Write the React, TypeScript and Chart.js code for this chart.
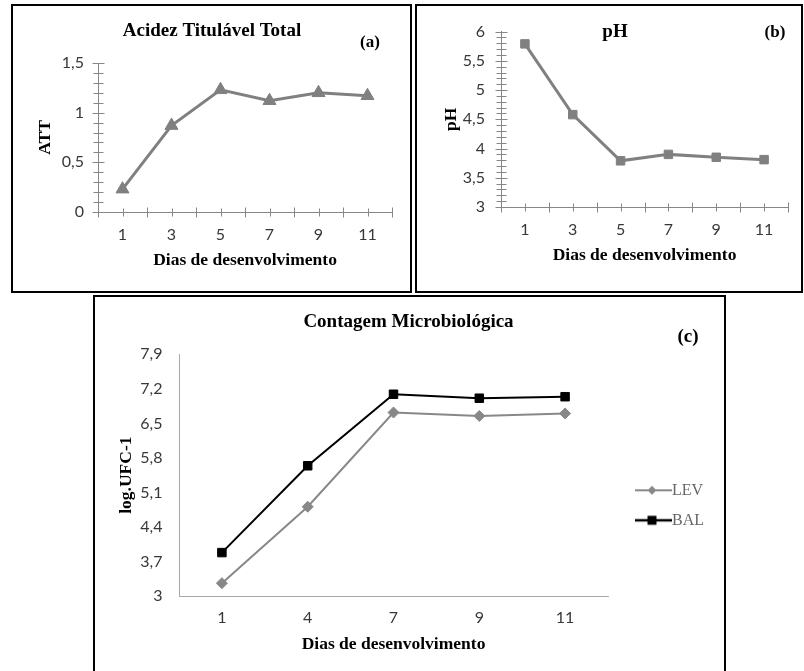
import React, { useEffect, useRef } from 'react';
import { Chart, registerables } from 'chart.js';

Chart.register(...registerables);

// ---------- data ----------
const daysAB = [1, 3, 5, 7, 9, 11];
const attValues = [0.23, 0.87, 1.23, 1.12, 1.2, 1.17];
const phValues = [5.79, 4.58, 3.79, 3.9, 3.85, 3.81];
const daysC = ['1', '4', '7', '9', '11'];
const levValues = [3.26, 4.81, 6.72, 6.65, 6.7];
const balValues = [3.88, 5.64, 7.09, 7.01, 7.04];
const attRange = [0, 1.5, 0.5]; // min, max, step
const phRange = [3, 6, 0.5];
const ufcRange = [3, 7.9, 0.7];

const GREY = '#808080';
const AXIS = '#878787';
const TICK_COLOR = '#383838';
const TICK_FONT = { family: 'Lato', size: 16 };
const SERIF = '"Liberation Serif"';
const AXIS_TITLE_FONT = { family: SERIF, size: 17.5, weight: 'bold' as const };

const fmt = (v: number | string) => {
  const n = Math.round(Number(v) * 10) / 10;
  return String(n).replace('.', ',');
};

type TextItem = { text: string; x: number; y: number; font: string };

function textPlugin(items: TextItem[]) {
  return {
    id: 'panelTexts',
    afterDraw(chart: any) {
      const ctx = chart.ctx;
      ctx.save();
      ctx.fillStyle = '#000';
      ctx.textAlign = 'center';
      ctx.textBaseline = 'middle';
      items.forEach((it) => {
        ctx.font = it.font;
        ctx.fillText(it.text, it.x, it.y);
      });
      ctx.restore();
    },
  };
}

function crossTicksPlugin(minorStep: number, color: string) {
  return {
    id: 'crossTicks',
    beforeDatasetsDraw(chart: any) {
      const { ctx, chartArea, scales } = chart;
      const xs = scales.x;
      const ys = scales.y;
      ctx.save();
      ctx.strokeStyle = color;
      ctx.lineWidth = 1;
      ctx.beginPath();
      const axisY = Math.round(chartArea.bottom) + 0.5;
      xs.ticks.forEach((t: any) => {
        const px = Math.round(xs.getPixelForValue(t.value)) + 0.5;
        const len = t.value % 2 === 0 ? 5 : 4;
        ctx.moveTo(px, axisY - len);
        ctx.lineTo(px, axisY + len);
      });
      const n = Math.round((ys.max - ys.min) / minorStep);
      const axisX = Math.round(chartArea.left) + 0.5;
      for (let i = 0; i <= n; i++) {
        const py = Math.round(ys.getPixelForValue(ys.min + i * minorStep)) + 0.5;
        const len = i % 5 === 0 ? 6 : 5;
        ctx.moveTo(axisX - len, py);
        ctx.lineTo(axisX + len, py);
      }
      ctx.stroke();
      ctx.restore();
    },
  };
}

function legendSymbol(color: string, lw: number, shape: 'diamond' | 'square', half: number) {
  const c = document.createElement('canvas');
  c.width = 58;
  c.height = 14;
  const g = c.getContext('2d')!;
  const x0 = 21;
  const x1 = 58;
  const cy = 7;
  const cx = x0 + 17;
  g.strokeStyle = color;
  g.lineWidth = lw;
  g.beginPath();
  g.moveTo(x0, cy);
  g.lineTo(x1, cy);
  g.stroke();
  g.fillStyle = color;
  g.beginPath();
  if (shape === 'diamond') {
    g.moveTo(cx, cy - half);
    g.lineTo(cx + half, cy);
    g.lineTo(cx, cy + half);
    g.lineTo(cx - half, cy);
    g.closePath();
  } else {
    g.rect(cx - half, cy - half, 2 * half, 2 * half);
  }
  g.fill();
  return c;
}

function linearXAxis(labelPadding: number) {
  return {
    type: 'linear' as const,
    min: 0,
    max: 12,
    grid: { display: false, drawTicks: false },
    border: { color: AXIS, width: 1 },
    ticks: {
      stepSize: 1,
      maxTicksLimit: 20,
      autoSkip: false,
      maxRotation: 0,
      padding: labelPadding,
      color: TICK_COLOR,
      font: TICK_FONT,
      callback: (v: any) => (Number(v) % 2 === 1 ? String(v) : ''),
    },
    title: {
      display: true,
      text: 'Dias de desenvolvimento',
      color: '#000',
      font: AXIS_TITLE_FONT,
      padding: { top: 0, bottom: 1 },
    },
    afterFit: (s: any) => {
      s.height = 60;
    },
  };
}

function buildA(): any {
  return {
    type: 'line',
    data: {
      datasets: [
        {
          label: 'ATT',
          data: daysAB.map((d, i) => ({ x: d, y: attValues[i] })),
          borderColor: GREY,
          backgroundColor: GREY,
          borderWidth: 3,
          pointStyle: 'triangle',
          pointRadius: 7.5,
          pointBorderWidth: 1,
          pointBackgroundColor: GREY,
          pointBorderColor: GREY,
          tension: 0,
        },
      ],
    },
    options: {
      animation: false,
      responsive: false,
      events: [],
      layout: { padding: { left: 0, top: 57, right: 18, bottom: 19 } },
      plugins: { legend: { display: false }, tooltip: { enabled: false } },
      scales: {
        x: linearXAxis(13),
        y: {
          min: attRange[0],
          max: attRange[1],
          grid: { display: false, drawTicks: false },
          border: { color: AXIS, width: 1 },
          ticks: { stepSize: attRange[2], padding: 14, color: TICK_COLOR, font: TICK_FONT, callback: fmt },
          title: { display: true, text: 'ATT', color: '#000', font: AXIS_TITLE_FONT, padding: { top: 22, bottom: 0 } },
          afterFit: (s: any) => {
            s.width = 85;
          },
        },
      },
    },
    plugins: [
      crossTicksPlugin(0.1, AXIS),
      textPlugin([
        { text: 'Acidez Titulável Total', x: 199, y: 25, font: `bold 19px ${SERIF}` },
        { text: '(a)', x: 357, y: 37, font: `bold 17px ${SERIF}` },
      ]),
    ],
  };
}

function buildB(): any {
  return {
    type: 'line',
    data: {
      datasets: [
        {
          label: 'pH',
          data: daysAB.map((d, i) => ({ x: d, y: phValues[i] })),
          borderColor: GREY,
          backgroundColor: GREY,
          borderWidth: 3,
          pointStyle: 'rect',
          pointRadius: 6,
          pointBorderWidth: 1,
          pointBackgroundColor: GREY,
          pointBorderColor: GREY,
          tension: 0,
        },
      ],
    },
    options: {
      animation: false,
      responsive: false,
      events: [],
      layout: { padding: { left: 0, top: 13, right: 4, bottom: 24 } },
      plugins: { legend: { display: false }, tooltip: { enabled: false } },
      scales: {
        x: linearXAxis(13),
        y: {
          min: phRange[0],
          max: phRange[1],
          grid: { display: false, drawTicks: false },
          border: { color: AXIS, width: 1 },
          ticks: { stepSize: phRange[2], padding: 16, color: TICK_COLOR, font: TICK_FONT, callback: fmt },
          title: { display: true, text: 'pH', color: '#000', font: AXIS_TITLE_FONT, padding: { top: 24, bottom: 0 } },
          afterFit: (s: any) => {
            s.width = 84;
          },
        },
      },
    },
    plugins: [
      crossTicksPlugin(0.1, AXIS),
      textPlugin([
        { text: 'pH', x: 198, y: 26, font: `bold 19px ${SERIF}` },
        { text: '(b)', x: 358, y: 27, font: `bold 17px ${SERIF}` },
      ]),
    ],
  };
}

function buildC(): any {
  const levSym = legendSymbol('#888888', 2, 'diamond', 4.5);
  const balSym = legendSymbol('#000000', 2.5, 'square', 4.5);
  const AX_C = '#a8a8a8';
  return {
    type: 'line',
    data: {
      labels: daysC,
      datasets: [
        {
          label: 'LEV',
          data: levValues,
          borderColor: '#888888',
          backgroundColor: '#888888',
          borderWidth: 2,
          pointStyle: 'rectRot',
          pointRadius: 5.5,
          pointBorderWidth: 1,
          pointBackgroundColor: '#888888',
          pointBorderColor: '#888888',
          tension: 0,
        },
        {
          label: 'BAL',
          data: balValues,
          borderColor: '#000000',
          backgroundColor: '#000000',
          borderWidth: 2,
          pointStyle: 'rect',
          pointRadius: 6,
          pointBorderWidth: 1,
          pointBackgroundColor: '#000000',
          pointBorderColor: '#000000',
          tension: 0,
        },
      ],
    },
    options: {
      animation: false,
      responsive: false,
      events: [],
      layout: { padding: { left: 0, top: 57.3, right: 10, bottom: 17 } },
      plugins: {
        tooltip: { enabled: false },
        legend: {
          display: true,
          position: 'right',
          align: 'start',
          title: { display: true, text: ' ', font: { size: 10 }, padding: { top: 0, bottom: 102 } },
          labels: {
            usePointStyle: true,
            pointStyleWidth: 42,
            padding: 14,
            color: '#262626',
            font: { family: SERIF, size: 16 },
            generateLabels: () => [
              { text: 'LEV', pointStyle: levSym, fillStyle: '#888888', strokeStyle: '#888888', lineWidth: 0, hidden: false, datasetIndex: 0 },
              { text: 'BAL', pointStyle: balSym, fillStyle: '#000000', strokeStyle: '#000000', lineWidth: 0, hidden: false, datasetIndex: 1 },
            ],
          },
        },
      },
      scales: {
        x: {
          type: 'category',
          offset: true,
          grid: { display: false, drawTicks: false },
          border: { color: AX_C, width: 1 },
          ticks: { padding: 12, maxRotation: 0, autoSkip: false, color: TICK_COLOR, font: TICK_FONT },
          title: {
            display: true,
            text: 'Dias de desenvolvimento',
            color: '#000',
            font: AXIS_TITLE_FONT,
            padding: { top: 0, bottom: 1.5 },
          },
          afterFit: (s: any) => {
            s.height = 60;
          },
        },
        y: {
          min: ufcRange[0],
          max: ufcRange[1],
          grid: { display: false, drawTicks: false },
          border: { color: AX_C, width: 1 },
          ticks: { stepSize: ufcRange[2], padding: 16.5, color: TICK_COLOR, font: TICK_FONT, callback: fmt },
          title: { display: true, text: 'log.UFC-1', color: '#000', font: AXIS_TITLE_FONT, padding: { top: 20.5, bottom: 0 } },
          afterFit: (s: any) => {
            s.width = 84;
          },
        },
      },
    },
    plugins: [
      textPlugin([
        { text: 'Contagem Microbiológica', x: 313.5, y: 24.7, font: `bold 19px ${SERIF}` },
        { text: '(c)', x: 593, y: 40.3, font: `bold 19px ${SERIF}` },
      ]),
    ],
  };
}

type Box = { x: number; y: number; w: number; h: number };

function Panel({ box, build }: { box: Box; build: () => any }) {
  const ref = useRef<HTMLCanvasElement>(null);
  useEffect(() => {
    if (!ref.current) return;
    const chart = new Chart(ref.current, build());
    return () => chart.destroy();
  }, []);
  const iw = box.w - 4;
  const ih = box.h - 4;
  return (
    <div
      style={{
        position: 'absolute',
        left: box.x,
        top: box.y,
        width: box.w,
        height: box.h,
        border: '2px solid #000',
        boxSizing: 'border-box',
        background: '#fff',
      }}
    >
      <canvas ref={ref} width={iw} height={ih} style={{ display: 'block', width: iw, height: ih }} />
    </div>
  );
}

export default function App() {
  return (
    <div
      style={{
        position: 'absolute',
        left: 0,
        top: 0,
        width: 804,
        height: 671,
        overflow: 'hidden',
        background: '#fff',
      }}
    >
      <Panel box={{ x: 11, y: 4, w: 401, h: 289 }} build={buildA} />
      <Panel box={{ x: 415, y: 4, w: 388, h: 289 }} build={buildB} />
      <Panel box={{ x: 93, y: 295, w: 633, h: 380 }} build={buildC} />
    </div>
  );
}
